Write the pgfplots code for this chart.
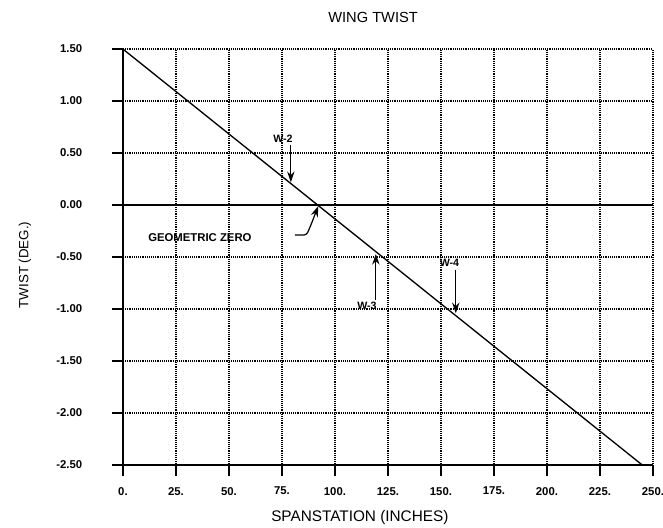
\documentclass[border=0pt]{standalone}
\usepackage{pgfplots}
\pgfplotsset{compat=1.18}
\usepackage{fontspec}
\setmainfont{Liberation Sans}
\usetikzlibrary{arrows.meta,calc}

\begin{document}
\begin{tikzpicture}
\begin{axis}[
    scale only axis,
    width=397.5pt, height=312pt,
    xmin=0, xmax=250,
    ymin=-2.5, ymax=1.5,
    axis line style={draw=none},
    xtick={0,25,...,250},
    xticklabels={0.,25.,50.,75.,100.,125.,150.,175.,200.,225.,250.},
    ytick={-2.5,-2,...,1.5},
    yticklabels={-2.50,-2.00,-1.50,-1.00,-0.50,0.00,0.50,1.00,1.50},
    xtick pos=bottom, ytick pos=left,
    tick align=outside,
    major tick length=8pt,
    grid=major,
    major grid style={black, densely dotted, line width=0.9pt},
    ticklabel style={font=\bfseries\fontsize{8.5}{10}\selectfont},
    yticklabel style={xshift=-19pt},
    xticklabel style={yshift=-5pt},
    clip=false,
]
% twist distribution
\addplot[black, line width=1pt] coordinates {(0,1.5) (245,-2.5)};

% geometric zero line
\draw[black, line width=1.1pt] (axis cs:0,0) -- (axis cs:250,0);

% annotations
\node[font=\bfseries\fontsize{8}{9}\selectfont] at (axis cs:75.5,0.635) {W-2};
\draw[line width=0.9pt, -{Stealth[length=8pt,width=5.5pt]}] (axis cs:79.2,0.58) -- (axis cs:79.2,0.22);

\node[font=\bfseries\fontsize{8.5}{10}\selectfont] at (axis cs:36.3,-0.31) {GEOMETRIC ZERO};
\draw[line width=0.9pt, rounded corners=2pt, -{Stealth[length=8pt,width=5.5pt]}]
    (axis cs:81.1,-0.288) -- (axis cs:86.6,-0.288) -- (axis cs:88.7,-0.19) -- (axis cs:92.1,-0.01);

\node[font=\bfseries\fontsize{8}{9}\selectfont] at (axis cs:115.1,-0.97) {W-3};
\draw[line width=0.9pt, -{Stealth[length=8pt,width=5.5pt]}] (axis cs:119.3,-0.91) -- (axis cs:119.3,-0.47);

\node[font=\bfseries\fontsize{8}{9}\selectfont] at (axis cs:154,-0.56) {W-4};
\draw[line width=0.9pt, -{Stealth[length=8pt,width=5.5pt]}] (axis cs:157,-0.62) -- (axis cs:157,-1.04);

% titles
\node[font=\fontsize{11}{13}\selectfont] at (rel axis cs:0.472,1.077) {WING TWIST};
\node[font=\fontsize{11.5}{13}\selectfont] at (rel axis cs:0.447,-0.125) {SPANSTATION (INCHES)};
\node[font=\fontsize{10}{12}\selectfont, rotate=90] at (rel axis cs:-0.185,0.481) {TWIST (DEG.)};

\coordinate (bl) at (rel axis cs:-0.232,-0.149);
\coordinate (tr) at (rel axis cs:1.019,1.118);
\coordinate (o) at (rel axis cs:0,0);
\coordinate (xe) at (rel axis cs:1,0);
\coordinate (ye) at (rel axis cs:0,1);
\end{axis}
% left and bottom axis lines with outward ticks
\draw[black, line width=1.2pt] (ye) -- (o) -- (xe);
\foreach \i in {0,...,10} {
  \draw[black, line width=0.9pt] ($(o)!\i/10!(xe)$) -- ++(0pt,-8.5pt);
}
\foreach \i in {0,...,8} {
  \draw[black, line width=0.9pt] ($(o)!\i/8!(ye)$) -- ++(-8.5pt,0pt);
}
\pgfresetboundingbox
\path[use as bounding box] (bl) rectangle (tr);
\end{tikzpicture}
\end{document}
